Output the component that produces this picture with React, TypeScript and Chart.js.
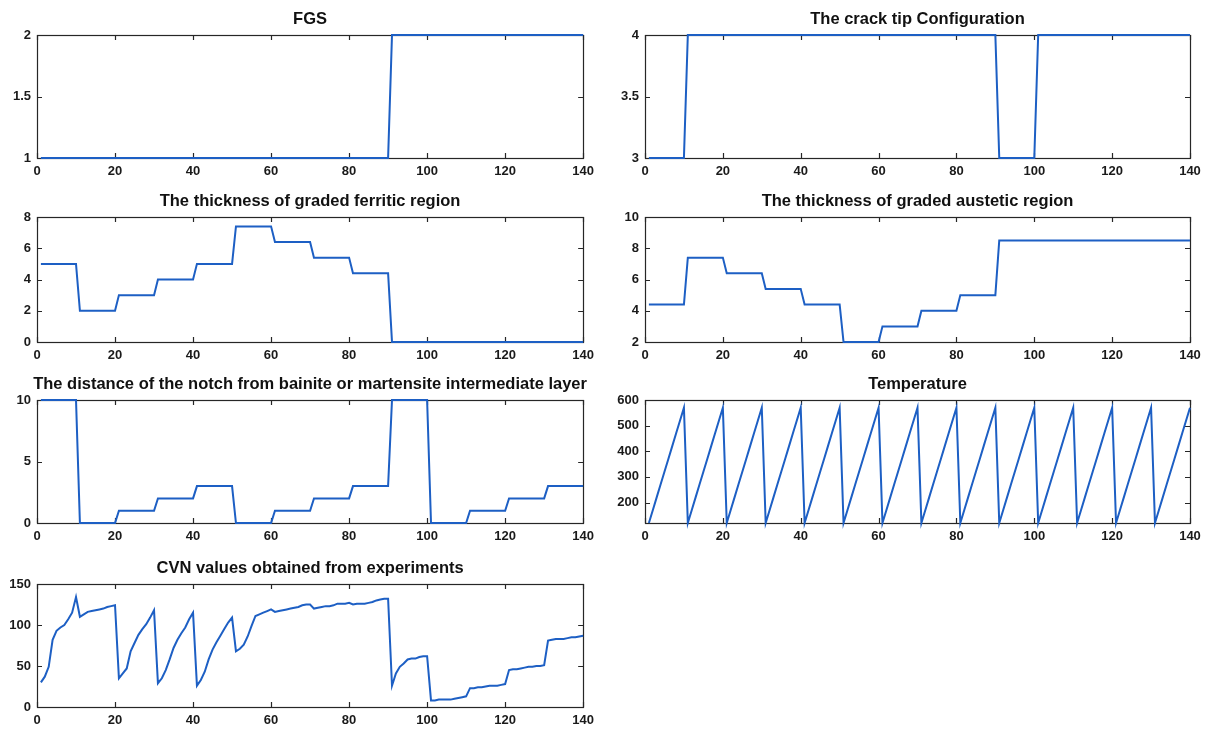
import React, { useEffect, useRef } from "react";
import { Chart, registerables } from "chart.js";

Chart.register(...registerables);

// Specimen numbers 1..140 (14 groups of 10 specimens)
const specimenIds: number[] = Array.from({ length: 140 }, (_, i) => i + 1);
const GROUP_SIZE = 10;

// Per-group levels for the step-like design variables
const fgsLevels = [1, 1, 1, 1, 1, 1, 1, 1, 1, 2, 2, 2, 2, 2];
const crackTipLevels = [3, 4, 4, 4, 4, 4, 4, 4, 4, 3, 4, 4, 4, 4];
const ferriticLevels = [5, 2, 3, 4, 5, 7.4, 6.4, 5.4, 4.4, 0, 0, 0, 0, 0];
const austeticLevels = [4.4, 7.4, 6.4, 5.4, 4.4, 2, 3, 4, 5, 8.5, 8.5, 8.5, 8.5, 8.5];
const notchLevels = [10, 0, 1, 2, 3, 0, 1, 2, 3, 10, 0, 1, 2, 3];

// Test temperatures within each group of specimens
const temperatureCycle = [120, 170, 220, 270, 320, 370, 420, 470, 520, 570];

// Measured Charpy V-notch energies
const cvnValues = [
  30, 37, 49, 82, 93, 97, 100, 107, 115, 134,
  110, 113, 116, 117, 118, 119, 120, 122, 123, 124,
  35, 41, 47, 68, 78, 88, 95, 101, 109, 118,
  29, 35, 45, 58, 72, 82, 90, 97, 107, 115,
  26, 33, 43, 58, 70, 79, 87, 95, 103, 109,
  68, 71, 76, 86, 99, 111, 113, 115, 117, 119,
  116, 117, 118, 119, 120, 121, 122, 124, 125, 125,
  120, 121, 122, 123, 123, 124, 126, 126, 126, 127,
  125, 126, 126, 126, 127, 128, 130, 131, 132, 132,
  26, 41, 49, 53, 58, 59, 59, 61, 62, 62,
  8, 8, 9, 9, 9, 9, 10, 11, 12, 13,
  23, 23, 24, 24, 25, 26, 26, 26, 27, 28,
  45, 46, 46, 47, 48, 49, 49, 50, 50, 51,
  81, 82, 83, 83, 83, 84, 85, 85, 86, 87,
];

// Axis tick labels
const xTicks = [0, 20, 40, 60, 80, 100, 120, 140];
const fgsTicks = [1, 1.5, 2];
const crackTipTicks = [3, 3.5, 4];
const ferriticTicks = [0, 2, 4, 6, 8];
const austeticTicks = [2, 4, 6, 8, 10];
const notchTicks = [0, 5, 10];
const temperatureTicks = [200, 300, 400, 500, 600];
const cvnTicks = [0, 50, 100, 150];

const GROUP_COUNT = specimenIds.length / GROUP_SIZE;
const expandGroups = (levels: number[]) => levels.flatMap((v) => Array(GROUP_SIZE).fill(v));
const repeatCycle = (cycle: number[]) => Array.from({ length: GROUP_COUNT }).flatMap(() => cycle);

type Panel = {
  title: string;
  values: number[];
  yMin: number;
  yMax: number;
  yTicks: number[];
  col: number;
  row: number;
};

const panels: Panel[] = [
  { title: "FGS", values: expandGroups(fgsLevels), yMin: 1, yMax: 2, yTicks: fgsTicks, col: 0, row: 0 },
  { title: "The crack tip Configuration", values: expandGroups(crackTipLevels), yMin: 3, yMax: 4, yTicks: crackTipTicks, col: 1, row: 0 },
  { title: "The thickness of graded ferritic region", values: expandGroups(ferriticLevels), yMin: 0, yMax: 8, yTicks: ferriticTicks, col: 0, row: 1 },
  { title: "The thickness of graded austetic region", values: expandGroups(austeticLevels), yMin: 2, yMax: 10, yTicks: austeticTicks, col: 1, row: 1 },
  { title: "The distance of the notch from bainite or martensite intermediate layer", values: expandGroups(notchLevels), yMin: 0, yMax: 10, yTicks: notchTicks, col: 0, row: 2 },
  { title: "Temperature", values: repeatCycle(temperatureCycle), yMin: 120, yMax: 600, yTicks: temperatureTicks, col: 1, row: 2 },
  { title: "CVN values obtained from experiments", values: cvnValues, yMin: 0, yMax: 150, yTicks: cvnTicks, col: 0, row: 3 },
];

// Subplot geometry (plot-box edges in page pixels)
const COLS = [
  { canvasLeft: 0, canvasWidth: 600, boxLeft: 37, boxRight: 584 },
  { canvasLeft: 600, canvasWidth: 607, boxLeft: 645, boxRight: 1190 },
];
const ROWS = [
  { boxTop: 35, boxBottom: 158 },
  { boxTop: 217, boxBottom: 342 },
  { boxTop: 400, boxBottom: 523 },
  { boxTop: 584, boxBottom: 707 },
];
const PAD_TOP = 35;
const PAD_BOTTOM = 22;

const LINE_COLOR = "#1d5fc4";
const FONT_FAMILY = "'Liberation Sans', Arial, sans-serif";

// Draws a MATLAB-style box with inward tick marks and the subplot title
const boxPlugin = {
  id: "boxFrame",
  beforeDatasetsDraw(chart: any, _args: any, opts: any) {
    const { ctx, chartArea: a } = chart;
    const xs = chart.scales.x;
    const ys = chart.scales.y;
    const t = 5;
    ctx.save();
    ctx.strokeStyle = "#262626";
    ctx.lineWidth = 1.2;
    ctx.strokeRect(Math.round(a.left) + 0.5, Math.round(a.top) + 0.5, Math.round(a.right - a.left), Math.round(a.bottom - a.top));
    ctx.beginPath();
    xs.ticks.forEach((tk: any) => {
      const px = Math.round(xs.getPixelForValue(tk.value)) + 0.5;
      ctx.moveTo(px, a.bottom);
      ctx.lineTo(px, a.bottom - t);
      ctx.moveTo(px, a.top);
      ctx.lineTo(px, a.top + t);
    });
    ys.ticks.forEach((tk: any) => {
      const py = Math.round(ys.getPixelForValue(tk.value)) + 0.5;
      ctx.moveTo(a.left, py);
      ctx.lineTo(a.left + t, py);
      ctx.moveTo(a.right, py);
      ctx.lineTo(a.right - t, py);
    });
    ctx.stroke();

    ctx.fillStyle = "#111";
    ctx.font = `bold 16.5px ${FONT_FAMILY}`;
    ctx.textAlign = "center";
    ctx.textBaseline = "middle";
    ctx.fillText(opts.text, (a.left + a.right) / 2, a.top - 16);
    ctx.restore();
  },
};

function SubPlot({ panel }: { panel: Panel }) {
  const ref = useRef<HTMLCanvasElement>(null);
  const col = COLS[panel.col];
  const row = ROWS[panel.row];
  const canvasTop = row.boxTop - PAD_TOP;
  const canvasHeight = PAD_TOP + (row.boxBottom - row.boxTop) + PAD_BOTTOM;
  const padLeft = col.boxLeft - col.canvasLeft;
  const padRight = col.canvasLeft + col.canvasWidth - col.boxRight;

  useEffect(() => {
    if (!ref.current) return;
    const tickFont = { family: FONT_FAMILY, size: 13, weight: "bold" as const };
    const chart = new Chart(ref.current, {
      type: "line",
      data: {
        datasets: [
          {
            data: specimenIds.map((id, i) => ({ x: id, y: panel.values[i] })),
            borderColor: LINE_COLOR,
            borderWidth: 2,
            pointRadius: 0,
            tension: 0,
            fill: false,
            clip: false as any,
          },
        ],
      },
      options: {
        responsive: false,
        animation: false,
        devicePixelRatio: 1,
        layout: { padding: { top: PAD_TOP, right: padRight, left: 0, bottom: 0 } },
        plugins: {
          legend: { display: false },
          tooltip: { enabled: false },
          title: { display: false },
          boxFrame: { text: panel.title },
        } as any,
        scales: {
          x: {
            type: "linear",
            min: 0,
            max: 140,
            grid: { display: false, drawTicks: false },
            border: { display: false },
            afterBuildTicks: (s: any) => {
              s.ticks = xTicks.map((v) => ({ value: v }));
            },
            afterFit: (s: any) => {
              s.height = PAD_BOTTOM;
            },
            ticks: { color: "#1a1a1a", font: tickFont, padding: 6, maxRotation: 0, autoSkip: false, callback: (v: any) => String(v) },
          },
          y: {
            type: "linear",
            min: panel.yMin,
            max: panel.yMax,
            grid: { display: false, drawTicks: false },
            border: { display: false },
            afterBuildTicks: (s: any) => {
              s.ticks = panel.yTicks.map((v) => ({ value: v }));
            },
            afterFit: (s: any) => {
              s.width = padLeft;
            },
            ticks: { color: "#1a1a1a", font: tickFont, padding: 6, autoSkip: false, callback: (v: any) => String(v) },
          },
        },
      },
      plugins: [boxPlugin],
    });
    return () => chart.destroy();
  }, []);

  return (
    <canvas
      ref={ref}
      width={col.canvasWidth}
      height={canvasHeight}
      style={{ position: "absolute", left: col.canvasLeft, top: canvasTop, width: col.canvasWidth, height: canvasHeight }}
    />
  );
}

export default function App() {
  return (
    <div style={{ position: "absolute", left: 0, top: 0, width: 1207, height: 729, background: "#fff", overflow: "hidden" }}>
      {panels.map((p) => (
        <SubPlot key={p.title} panel={p} />
      ))}
    </div>
  );
}
